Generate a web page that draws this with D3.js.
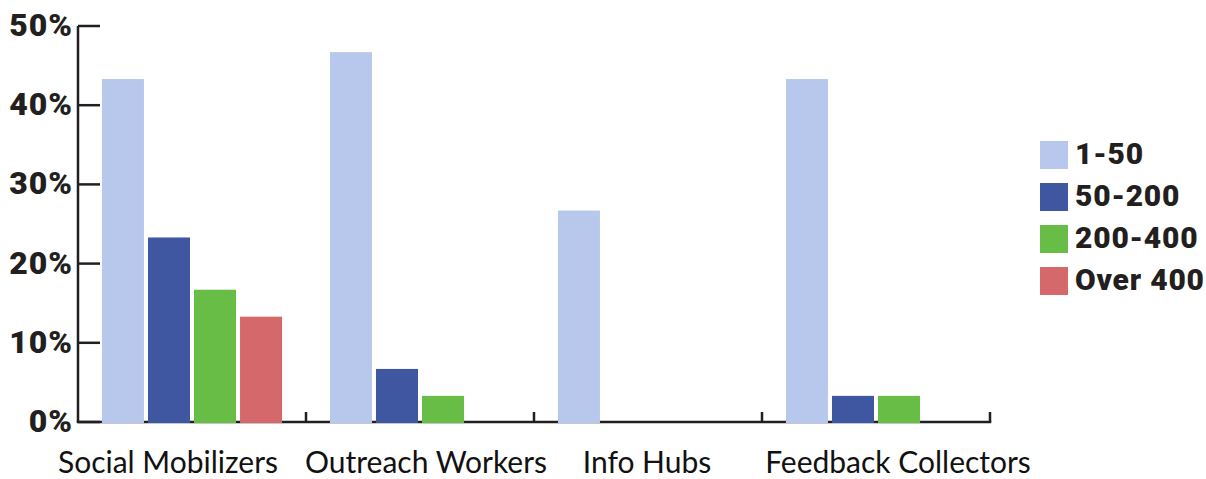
<!DOCTYPE html>
<html>
<head>
<meta charset="utf-8">
<script src="https://cdn.jsdelivr.net/npm/d3@7"></script>
<style>
  body { margin: 0; background: #fff; }
  .tick-label { font-family: Roboto, sans-serif; font-weight: 900; font-size: 32px; letter-spacing: 1px; fill: #231f20; }
  .cat-label { font-family: Lato, "Open Sans", sans-serif; font-size: 30px; fill: #111; }
  .legend-text { font-family: Roboto, sans-serif; font-weight: 900; font-size: 30px; letter-spacing: 0.8px; fill: #231f20; }
</style>
</head>
<body>
<div id="chart"></div>
<script>
// categories and series
const categories = ["Social Mobilizers", "Outreach Workers", "Info Hubs", "Feedback Collectors"];
const seriesNames = ["1-50", "50-200", "200-400", "Over 400"];
const seriesColors = ["#b8c8ec", "#3f57a0", "#68bd46", "#d4686a"];
const vals1to50 = [43.3, 46.7, 26.7, 43.3];
const vals50to200 = [23.3, 6.7, 0, 3.3];
const vals200to400 = [16.7, 3.3, 0, 3.3];
const valsOver400 = [13.3, 0, 0, 0];
const yTicks = [0, 10, 20, 30, 40, 50];

// label nudges (the source labels are not exactly centred)
const labelShift = [-24, 6, -1, 22];

const width = 1206, height = 479;
const margin = { top: 26, right: 216, bottom: 57, left: 78 };

const seriesValues = [vals1to50, vals50to200, vals200to400, valsOver400];
const data = categories.map((c, i) => ({
  category: c,
  values: seriesNames.map((s, j) => ({ key: s, color: seriesColors[j], value: seriesValues[j][i] }))
}));

const svg = d3.select("#chart")
  .append("svg")
  .attr("width", width)
  .attr("height", height);

const x0 = d3.scaleBand()
  .domain(categories)
  .range([margin.left, width - margin.right])
  .padding(0);

const x1 = d3.scaleBand()
  .domain(seriesNames)
  .range([0, x0.bandwidth()])
  .paddingInner(0.087)
  .paddingOuter(0.52);

const y = d3.scaleLinear()
  .domain([0, 50])
  .range([height - margin.bottom, margin.top]);

const axisColor = "#231f20";

// y axis
svg.append("line")
  .attr("x1", margin.left).attr("x2", margin.left)
  .attr("y1", y(50)).attr("y2", y(0))
  .attr("stroke", axisColor).attr("stroke-width", 2.5);

svg.selectAll(".ytick")
  .data(yTicks)
  .join("line")
  .attr("class", "ytick")
  .attr("x1", margin.left).attr("x2", margin.left + 22)
  .attr("y1", d => y(d)).attr("y2", d => y(d))
  .attr("stroke", axisColor).attr("stroke-width", 2.5);

svg.selectAll(".tick-label")
  .data(yTicks)
  .join("text")
  .attr("class", "tick-label")
  .attr("x", margin.left - 5)
  .attr("y", d => y(d) + 10)
  .attr("text-anchor", "end")
  .text(d => d + "%");

// x axis
svg.append("line")
  .attr("x1", margin.left - 1.25).attr("x2", width - margin.right + 1.25)
  .attr("y1", y(0)).attr("y2", y(0))
  .attr("stroke", axisColor).attr("stroke-width", 2.5);

svg.selectAll(".xtick")
  .data(categories)
  .join("line")
  .attr("class", "xtick")
  .attr("x1", d => x0(d) + x0.bandwidth()).attr("x2", d => x0(d) + x0.bandwidth())
  .attr("y1", y(0)).attr("y2", y(0) - 10)
  .attr("stroke", axisColor).attr("stroke-width", 2.5);

// bars
const groups = svg.selectAll(".group")
  .data(data)
  .join("g")
  .attr("class", "group")
  .attr("transform", d => `translate(${x0(d.category)},0)`);

groups.selectAll("rect")
  .data(d => d.values.filter(v => v.value > 0))
  .join("rect")
  .attr("x", d => x1(d.key))
  .attr("y", d => y(d.value))
  .attr("width", x1.bandwidth())
  .attr("height", d => y(0) - y(d.value) + 1)
  .attr("fill", d => d.color);

// category labels
svg.selectAll(".cat-label")
  .data(categories)
  .join("text")
  .attr("class", "cat-label")
  .attr("x", (d, i) => x0(d) + x0.bandwidth() / 2 + labelShift[i])
  .attr("y", 473)
  .attr("text-anchor", "middle")
  .text(d => d);

// legend
const legend = svg.append("g")
  .attr("transform", "translate(1040,141)");

const items = legend.selectAll("g")
  .data(seriesNames)
  .join("g")
  .attr("transform", (d, i) => `translate(0,${i * 42})`);

items.append("rect")
  .attr("width", 28)
  .attr("height", 28)
  .attr("fill", (d, i) => seriesColors[i]);

items.append("text")
  .attr("class", "legend-text")
  .attr("x", 35)
  .attr("y", 23)
  .text(d => d);
</script>
</body>
</html>
